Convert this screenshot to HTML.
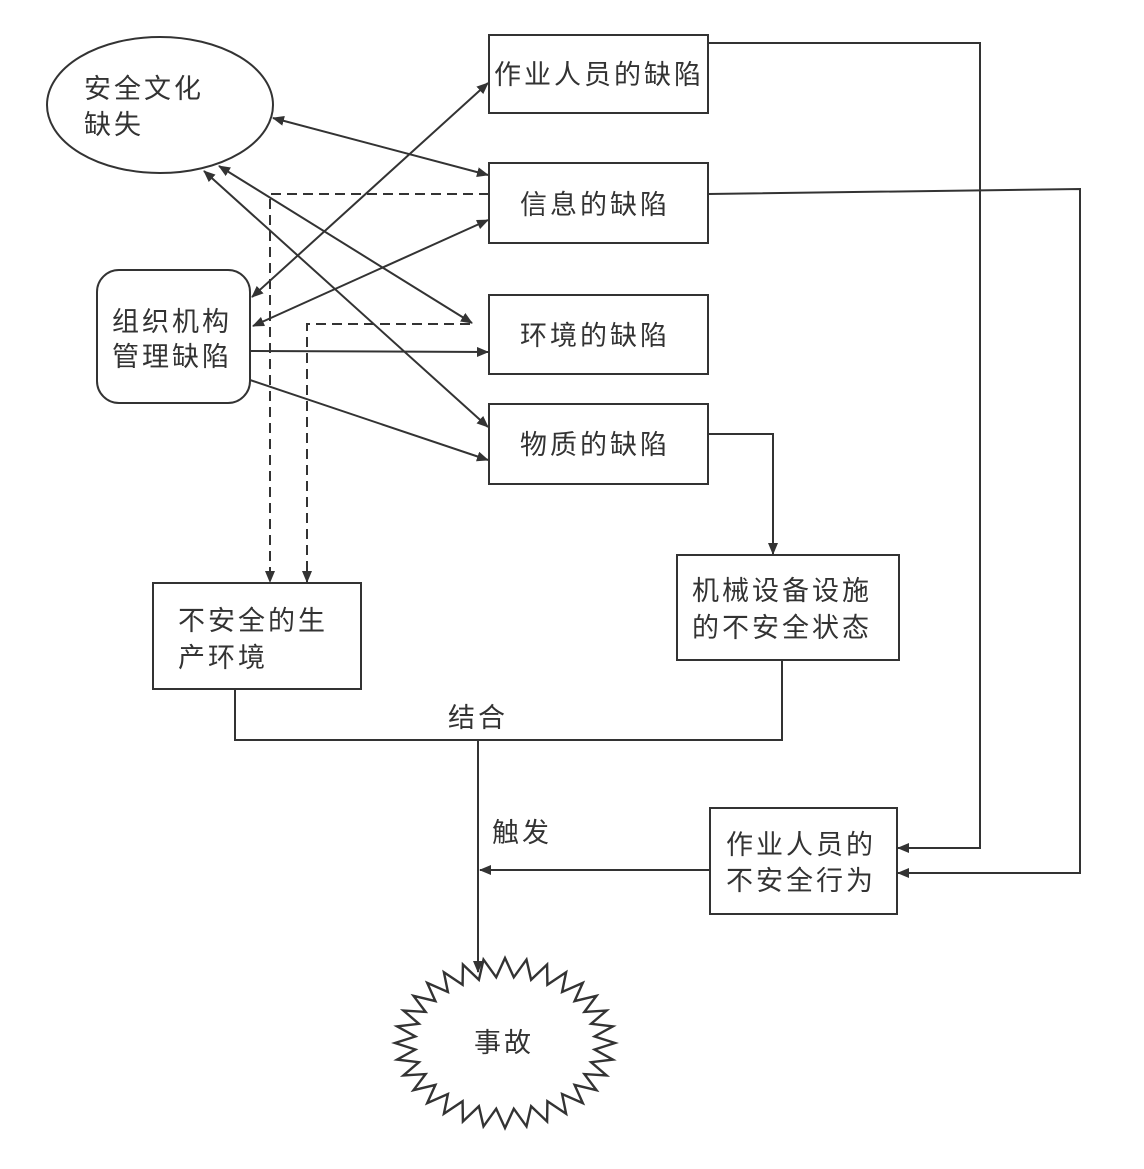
<!DOCTYPE html>
<html><head><meta charset="utf-8"><style>
body{margin:0;background:#fff;}
svg text{font-family:"Liberation Sans","Noto Sans CJK SC",sans-serif;fill:#333;font-size:27px;letter-spacing:3px}
</style></head><body>
<svg width="1144" height="1164" viewBox="0 0 1144 1164" xmlns="http://www.w3.org/2000/svg">
<defs>
<marker id="a" markerWidth="12" markerHeight="10" refX="11" refY="5" orient="auto-start-reverse" markerUnits="userSpaceOnUse">
<path d="M0,0 L12,5 L0,10 z" fill="#333"/></marker>
</defs>
<g stroke="#333" stroke-width="2" fill="none">
<ellipse cx="160" cy="105" rx="113" ry="68"/>
<rect x="97" y="270" width="153" height="133" rx="22"/>
<rect x="489" y="35" width="219" height="78"/>
<rect x="489" y="163" width="219" height="80"/>
<rect x="489" y="295" width="219" height="79"/>
<rect x="489" y="404" width="219" height="80"/>
<rect x="153" y="583" width="208" height="106"/>
<rect x="677" y="555" width="222" height="105"/>
<rect x="710" y="808" width="187" height="106"/>
<line x1="273" y1="118" x2="488" y2="175" marker-start="url(#a)" marker-end="url(#a)"/>
<line x1="219" y1="166" x2="472" y2="323" marker-start="url(#a)" marker-end="url(#a)"/>
<line x1="204" y1="171" x2="488" y2="427" marker-start="url(#a)" marker-end="url(#a)"/>
<line x1="252" y1="297" x2="488" y2="83" marker-start="url(#a)" marker-end="url(#a)"/>
<line x1="253" y1="326" x2="488" y2="220" marker-start="url(#a)" marker-end="url(#a)"/>
<line x1="250" y1="351" x2="488" y2="352" marker-end="url(#a)"/>
<line x1="250" y1="380" x2="488" y2="460" marker-end="url(#a)"/>
<polyline points="489,194 270,194 270,582" stroke-dasharray="10,6" marker-end="url(#a)"/>
<polyline points="470,324 307,324 307,582" stroke-dasharray="10,6" marker-end="url(#a)"/>
<polyline points="708,43 980,43 980,848 898,848" marker-end="url(#a)"/>
<polyline points="708,194 1080,189 1080,873 898,873" marker-end="url(#a)"/>
<polyline points="708,434 773,434 773,554" marker-end="url(#a)"/>
<polyline points="235,689 235,740 782,740 782,660"/>
<line x1="478" y1="740" x2="478" y2="972" marker-end="url(#a)"/>
<line x1="710" y1="870" x2="480" y2="870" marker-end="url(#a)"/>
<polygon stroke-width="2.4" points="505,958 513.8,977.3 526.5,959.6 531.1,979.8 547.1,964.5 547.4,984.8 566.1,972.3 562.1,992 582.8,982.9 574.6,1001.1 596.5,995.8 584.4,1011.9 606.6,1010.5 591.1,1023.8 612.9,1026.4 594.6,1036.5 615,1043 594.6,1049.5 612.9,1059.6 591.1,1062.2 606.6,1075.5 584.4,1074.1 596.5,1090.2 574.6,1084.9 582.8,1103.1 562.1,1094 566.1,1113.7 547.4,1101.2 547.1,1121.5 531.1,1106.2 526.5,1126.4 513.8,1108.7 505,1128 496.2,1108.7 483.5,1126.4 478.9,1106.2 462.9,1121.5 462.6,1101.2 443.9,1113.7 447.9,1094 427.2,1103.1 435.4,1084.9 413.5,1090.2 425.6,1074.1 403.4,1075.5 418.9,1062.2 397.1,1059.6 415.4,1049.5 395,1043 415.4,1036.5 397.1,1026.4 418.9,1023.8 403.4,1010.5 425.6,1011.9 413.5,995.8 435.4,1001.1 427.2,982.9 447.9,992 443.9,972.3 462.6,984.8 462.9,964.5 478.9,979.8 483.5,959.6 496.2,977.3"/>
</g>
<text x="84" y="98">安全文化</text>
<text x="84" y="134">缺失</text>
<text x="112" y="331">组织机构</text>
<text x="112" y="366">管理缺陷</text>
<text x="494" y="84">作业人员的缺陷</text>
<text x="520" y="214">信息的缺陷</text>
<text x="520" y="345">环境的缺陷</text>
<text x="520" y="454">物质的缺陷</text>
<text x="178" y="630">不安全的生</text>
<text x="178" y="667">产环境</text>
<text x="692" y="600">机械设备设施</text>
<text x="692" y="637">的不安全状态</text>
<text x="726" y="854">作业人员的</text>
<text x="726" y="890">不安全行为</text>
<text x="448" y="727">结合</text>
<text x="492" y="842">触发</text>
<text x="474" y="1052">事故</text>
</svg>
</body></html>
